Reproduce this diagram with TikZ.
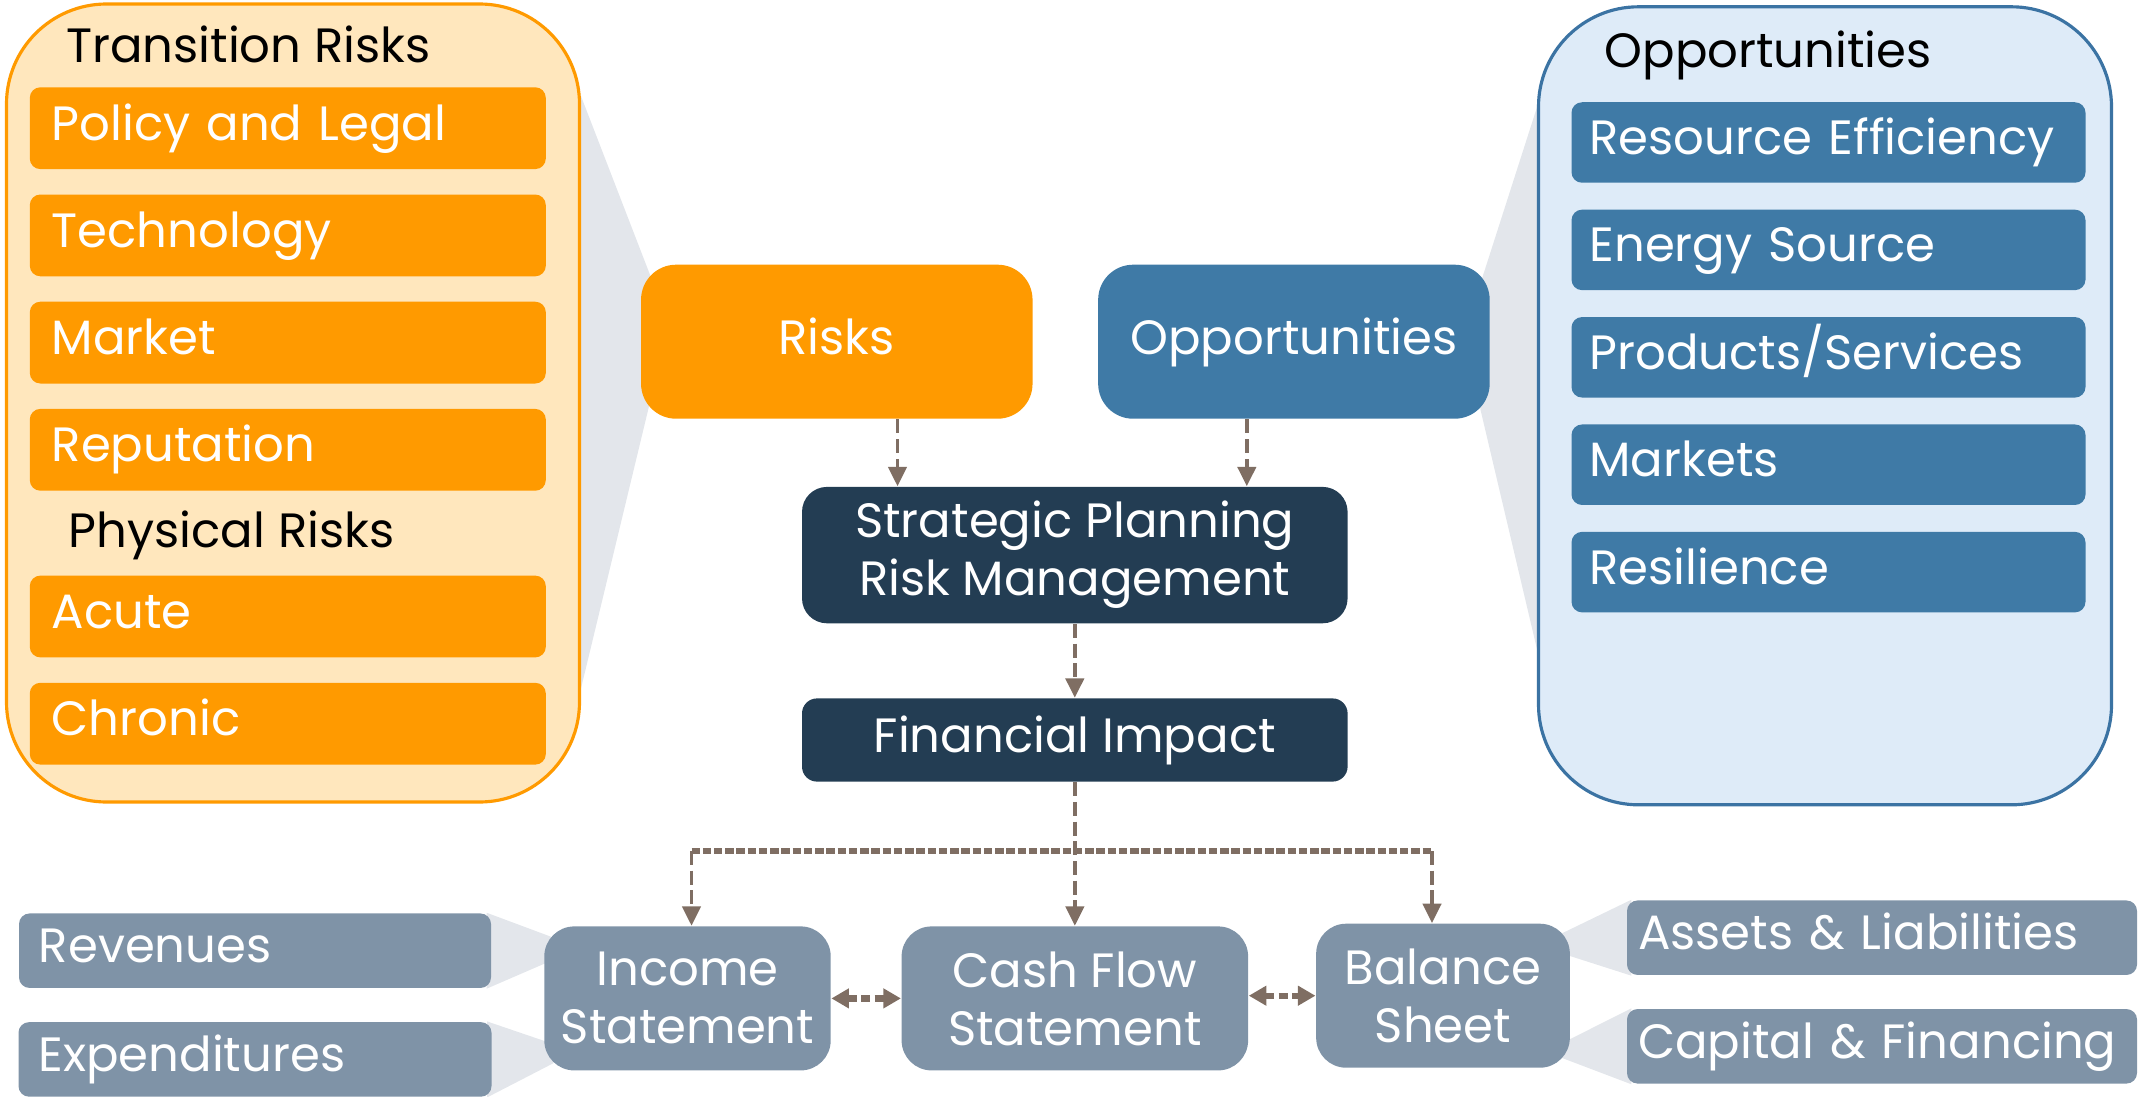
\documentclass[tikz,border=0pt]{standalone}
\usepackage{fontspec}
\setmainfont{Poppins}
\usetikzlibrary{positioning, arrows.meta, calc, backgrounds}

\definecolor{riskorange}{HTML}{FF9A00}
\definecolor{risklight}{HTML}{FFE7BD}
\definecolor{oppblue}{HTML}{3F7AA6}
\definecolor{opplight}{HTML}{DEEBF8}
\definecolor{oppline}{HTML}{3B73A3}
\definecolor{navy}{HTML}{233D53}
\definecolor{slate}{HTML}{7F93A7}
\definecolor{funnelgray}{HTML}{E3E6EB}
\definecolor{arrowbrown}{HTML}{7F6E63}

\newcommand{\boxfont}{\fontsize{13.7}{16.5}\selectfont}

\begin{document}
\begin{tikzpicture}[
    node distance=0.24cm,
    group/.style={line width=0.9pt, rounded corners=1cm, minimum width=5.73cm, minimum height=7.98cm},
    head/.style={anchor=base west, font=\boxfont, inner sep=0pt},
    item/.style={rounded corners=3pt, text=white, font=\boxfont, inner ysep=0pt, align=left, text height=0.68em, text depth=0pt},
    riskitem/.style={item, fill=riskorange, minimum height=0.818cm, text width=4.72cm, inner xsep=0.22cm},
    oppitem/.style={item, fill=oppblue, minimum height=0.805cm, text width=4.78cm, inner xsep=0.18cm},
    flowitem/.style={item, fill=slate, minimum height=0.745cm, inner xsep=0.2cm},
    hub/.style={text=white, font=\boxfont, align=center, inner sep=0pt},
    stmt/.style={hub, fill=slate, rounded corners=0.3cm, minimum height=1.44cm},
    funnel/.style={fill=funnelgray},
    arrow/.style={draw=arrowbrown, line width=1pt, dash pattern=on 4pt off 1.6pt, -{Triangle[length=5.5pt, width=5.2pt]}},
    bus/.style={draw=arrowbrown, line width=1.8pt, dash pattern=on 2.4pt off 0.8pt},
    twoway/.style={draw=arrowbrown, line width=1.8pt, dash pattern=on 2.6pt off 1.2pt, {Triangle[length=5pt, width=5.4pt]}-{Triangle[length=5pt, width=5.4pt]}}
]
    \useasboundingbox (0,0) rectangle (21.39,-10.97);

    % NODES
    \node[group, draw=riskorange, fill=risklight] (riskgroup) at (2.93,-4.03) {};
    \node[head] (transhead) at (0.655,-0.625) {Transition Risks};
    \node[riskitem] (policy) at (2.878,-1.282) {Policy and Legal};
    \node[riskitem, below=of policy] (technology) {Technology};
    \node[riskitem, below=of technology] (market) {Market};
    \node[riskitem, below=of market] (reputation) {Reputation};
    \node[head] (physhead) at (0.682,-5.47) {Physical Risks};
    \node[riskitem] (acute) at (2.878,-6.165) {Acute};
    \node[riskitem, below=of acute] (chronic) {Chronic};

    \node[group, draw=oppline, fill=opplight] (oppgroup) at (18.25,-4.058) {};
    \node[head] (opphead) at (16.04,-0.68) {Opportunities};
    \node[oppitem] (resource) at (18.285,-1.425) {Resource Efficiency};
    \node[oppitem, below=0.255cm of resource] (energy) {Energy Source};
    \node[oppitem, below=0.255cm of energy] (products) {Products/Services};
    \node[oppitem, below=0.255cm of products] (markets) {Markets};
    \node[oppitem, below=0.255cm of markets] (resilience) {Resilience};

    \node[hub, fill=riskorange, rounded corners=0.35cm, minimum width=3.915cm, minimum height=1.54cm, text height=0.7em, text depth=0pt] (risks) at (8.368,-3.417) {Risks};
    \node[hub, fill=oppblue, rounded corners=0.35cm, minimum width=3.915cm, minimum height=1.54cm, text height=0.7em, text depth=0pt, right=0.642cm of risks] (opps) {Opportunities};
    \node[hub, fill=navy, rounded corners=0.25cm, minimum width=5.456cm, minimum height=1.364cm] (strategic) at (10.748,-5.551) {Strategic Planning\\Risk Management};
    \node[hub, fill=navy, rounded corners=0.15cm, minimum width=5.456cm, minimum height=0.832cm, text height=0.7em, text depth=0pt, below=0.737cm of strategic] (financial) {Financial Impact};

    \node[stmt, minimum width=2.864cm] (income) at (6.875,-9.984) {Income\\Statement};
    \node[stmt, minimum width=3.465cm, right=0.695cm of income] (cash) {Cash Flow\\Statement};
    \node[stmt, minimum width=2.537cm] (balance) at (14.43,-9.957) {Balance\\Sheet};

    \node[flowitem, text width=4.32cm] (revenues) at (2.55,-9.507) {Revenues};
    \node[flowitem, text width=4.33cm, below=0.328cm of revenues] (expenditures) {Expenditures};
    \node[flowitem, text width=4.88cm, inner xsep=0.11cm] (assets) at (18.82,-9.377) {Assets \& Liabilities};
    \node[flowitem, text width=4.88cm, inner xsep=0.11cm, below=0.327cm of assets] (capital) {Capital \& Financing};

    \coordinate (busleft) at (6.915,-8.51);
    \coordinate (busright) at (14.32,-8.51);

    % FUNNELS
    \begin{scope}[on background layer]
        \fill[funnel] ($(riskgroup.north east)+(-0.1,-0.68)$) -- ($(risks.west)+(0.1,0.66)$) -- ($(risks.west)+(0.1,-0.59)$) -- ($(riskgroup.south east)+(-0.1,0.74)$) -- cycle;
        \fill[funnel] ($(opps.east)+(-0.1,0.58)$) -- ($(oppgroup.north west)+(0.1,-0.71)$) -- ($(oppgroup.south west)+(0.1,1.15)$) -- ($(opps.east)+(-0.1,-0.675)$) -- cycle;
        \fill[funnel] ($(revenues.north east)+(-0.05,0)$) -- ($(income.north west)+(0.1,-0.12)$) -- ($(income.north west)+(0.1,-0.34)$) -- ($(revenues.south east)+(-0.05,0)$) -- cycle;
        \fill[funnel] ($(expenditures.north east)+(-0.05,0)$) -- ($(income.south west)+(0.1,0.27)$) -- ($(income.south west)+(0.1,0.08)$) -- ($(expenditures.south east)+(-0.05,0)$) -- cycle;
        \fill[funnel] ($(balance.north east)+(-0.1,-0.11)$) -- ($(assets.north west)+(0.05,0)$) -- ($(assets.south west)+(0.05,0)$) -- ($(balance.north east)+(-0.1,-0.3)$) -- cycle;
        \fill[funnel] ($(balance.south east)+(-0.1,0.245)$) -- ($(capital.north west)+(0.05,0)$) -- ($(capital.south west)+(0.05,0)$) -- ($(balance.south east)+(-0.1,0.11)$) -- cycle;
    \end{scope}

    % EDGES
    \draw[arrow] ([xshift=0.607cm]risks.south) -- ([xshift=0.607cm]risks.south |- strategic.north);
    \draw[arrow] ([xshift=-0.471cm]opps.south) -- ([xshift=-0.471cm]opps.south |- strategic.north);
    \draw[arrow] (strategic) -- (financial);
    \draw[arrow] (financial.south -| cash) -- (cash);

    \draw[bus] (busleft) -- (busright);
    \draw[arrow] (busleft) -- (busleft |- income.north);
    \draw[arrow] (busright) -- (busright |- balance.north);

    \draw[twoway] (income) -- (cash);
    \draw[twoway] (cash.east |- balance) -- (balance);

\end{tikzpicture}
\end{document}
